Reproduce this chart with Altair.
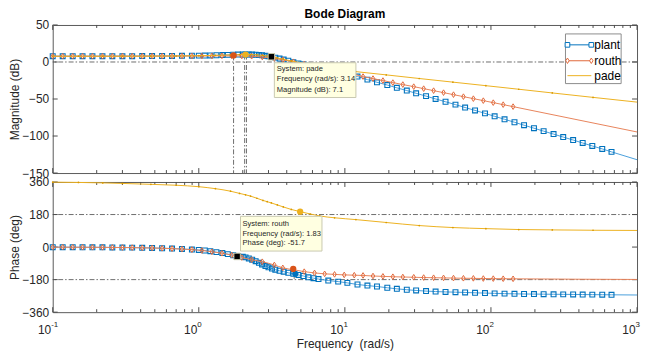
import altair as alt
import pandas as pd

# ---------------- values ----------------
plant_w = [0.1, 0.117, 0.137, 0.16, 0.187, 0.219, 0.256, 0.3, 0.35, 0.41, 0.479, 0.561, 0.656, 0.767, 0.897,
           1.0, 1.1, 1.2, 1.32, 1.45, 1.58, 1.72, 1.86, 2.0, 2.09, 2.2, 2.32, 2.45, 2.58, 2.71, 2.86, 3.0,
           3.17, 3.34, 3.57, 3.81, 4.1, 4.44, 4.81, 5.2, 5.63, 6.1, 6.6, 7.7, 9.0, 10.4,
           12.2, 14.27, 16.59, 19.52, 22.69, 26.54, 30.74, 35.95, 41.79, 48.88, 57.17, 66.55, 77.84, 91.05,
           105.97, 123.9, 144.9, 168.5, 197.0, 229.4, 268.3, 312.4, 365.3, 424.6, 494.2, 578.0, 668.9]
plant_mag = [7.8, 7.8, 7.8, 7.8, 7.8, 7.8, 7.9, 7.9, 7.9, 8.0, 8.0, 8.1, 8.2, 8.3, 8.5,
             8.6, 8.7, 8.9, 9.1, 9.4, 9.6, 9.8, 10.0, 10.1, 10.1, 10.1, 10.0, 9.8, 9.4, 9.0, 8.4, 7.7,
             6.8, 5.9, 4.6, 3.3, 1.8, -0.2, -1.9, -3.4, -5.0, -6.6, -8.2, -11.3, -14.4, -17.2,
             -19.7, -23.8, -27.4, -31.1, -34.9, -38.6, -42.3, -46.1, -49.9, -53.7, -57.6, -61.5, -65.4, -69.4,
             -73.4, -77.4, -81.4, -85.4, -89.4, -93.4, -97.4, -101.4, -105.4, -109.4, -113.4, -117.4, -121.4]
plant_phase = [-0.5, -0.6, -0.8, -1, -1.2, -1.5, -2, -2.5, -3, -4, -5, -6.5, -8, -10.5, -13.5,
               -16, -19, -23, -28, -33, -39, -45, -50, -54, -57, -63, -70, -78, -87, -96, -105, -112,
               -119, -125, -131, -136, -142, -148, -154, -160, -167, -172, -177, -185, -191, -198,
               -207, -213, -218, -225, -231, -236, -240, -243.5, -246, -248, -249.5, -251, -253, -254.5,
               -256, -257.5, -258.5, -259.5, -260, -260.5, -261, -261.5, -262, -262.5, -263, -263.5, -264]
plant_tail_w, plant_tail_mag, plant_tail_phase = [1000], [-132], [-265]

routh_w = [0.1, 0.117, 0.137, 0.16, 0.187, 0.219, 0.256, 0.3, 0.35, 0.41, 0.479, 0.561, 0.656, 0.767, 0.897,
           1.05, 1.23, 1.44, 1.68, 1.97, 2.3, 2.72, 3.29, 3.76, 4.44, 5.27, 6.2, 7.27, 8.5, 9.9, 11.6,
           13.32, 15.58, 18.22, 21.31, 24.93, 29.61, 34.63, 40.5, 47.37, 55.41, 64.8, 75.8, 88.66, 103.7,
           121.3, 141.8]
routh_mag = [7.8, 7.8, 7.8, 7.8, 7.8, 7.8, 7.8, 7.9, 7.9, 7.9, 8.0, 8.0, 8.0, 8.1, 8.1,
             8.1, 8.2, 8.3, 8.3, 8.15, 7.8, 6.7, 4.8, 2.9, 0.3, -2.7, -5.6, -8.4, -11.2, -13.9, -16.8,
             -19.7, -22.4, -25.1, -27.8, -30.5, -33.3, -36.0, -38.7, -41.4, -44.1, -46.8, -49.5, -52.2, -54.9,
             -57.6, -60.3]
routh_phase = [-0.5, -0.6, -0.8, -1, -1.2, -1.5, -2, -2.5, -3, -4, -5, -6.5, -8.5, -11, -14,
               -19, -26, -34, -44, -58, -70, -81, -99, -115, -125, -136, -143, -148, -151, -154, -155.5,
               -157, -160, -162, -164, -165.5, -167, -168.5, -169.5, -170.5, -171.5, -172.5, -173, -174, -174.5,
               -175, -175.5]
routh_tail_w, routh_tail_mag, routh_tail_phase = [1000], [-94.5], [-179]

pade_w = [0.1, 0.15, 0.22, 0.3, 0.47, 0.7, 1.0, 1.3, 1.65, 1.9, 2.09, 2.26, 2.5, 2.75, 2.94, 3.14, 3.45,
          3.79, 4.3, 4.94, 5.8, 6.73, 8.5, 11.9, 19.2, 32.3, 54.9, 92.3, 155, 263, 500, 1000]
pade_mag = [7.8, 7.8, 7.8, 7.8, 7.9, 8.1, 8.5, 9.0, 9.6, 10.0, 10.2, 10.1, 9.6, 8.8, 8.0, 7.1, 5.5,
            3.8, 1.4, -1.0, -3.8, -6.0, -9.3, -13.0, -17.4, -22.3, -27.2, -32.0, -36.8, -41.8, -47.8, -54.2]
pade_phase = [359, 357.5, 355, 352, 347, 342, 334, 323, 309, 297, 289, 282, 270, 258, 251, 244, 233,
              222, 208, 196, 183, 172, 162, 152, 136, 119, 108, 102, 97, 95, 93, 92]

# characteristic markers (peak response / margins) and data tips
peak_w = [1.73, 2.09]
peak_mag = [8.8, 10.0]
peak_colors = ["#D95319", "#EDB120"]
peak_lines_w = [1.73, 2.06, 2.12]
peak_lines_mag = [8.8, 10.0, 10.0]
margin_w = [4.58, 4.43, 4.94]
margin_phase = [-148, -121, 196]
margin_colors = ["#0072BD", "#D95319", "#EDB120"]

tip_top_point = (3.14, 7.1)
tip_top_lines = ["System: pade", "Frequency (rad/s): 3.14", "Magnitude (dB): 7.1"]
tip_bot_point = (1.83, -51.7)
tip_bot_lines = ["System: routh", "Frequency (rad/s): 1.83", "Phase (deg): -51.7"]

title_text = "Bode Diagram"
mag_ticks = [50, 0, -50, -100, -150]
phase_ticks = [360, 180, 0, -180, -360]
x_decades = [0.1, 1, 10, 100, 1000]
x_exponents = ["-1", "0", "1", "2", "3"]
x_minor = [m * d for d in [0.1, 1, 10, 100] for m in range(2, 10)]
legend_names = ["plant", "routh", "pade"]

# ---------------- styling ----------------
W, HT, HB = 588, 149, 131
FONT = "Liberation Sans"
TIPFONT = "Liberation Sans Narrow, Arial Narrow, Liberation Sans"
TXT = "#262626"
PLANT_M, PLANT_L = "#0072BD", "#4a9fdc"
ROUTH_M, ROUTH_L = "#E0683A", "#E8845C"
PADE = "#EDB120"
REF = "#6e6e6e"
DASH = [5, 2, 1.5, 2]
DIAMOND = "M0,-1L0.62,0L0,1L-0.62,0Z"

xs = alt.Scale(type="log", domain=[0.1, 1000], nice=False)
ys_top = alt.Scale(domain=[-150, 50], nice=False, zero=False)
ys_bot = alt.Scale(domain=[-360, 360], nice=False, zero=False)

ax_top = alt.Axis(values=mag_ticks, title="Magnitude (dB)", ticks=False, domain=False, grid=False,
                  labelPadding=4, labelFontSize=12, labelColor=TXT, titleFontSize=12,
                  titleFontWeight="normal", titleColor=TXT, titleX=-38, titleY=HT / 2,
                  titleAlign="center", titleBaseline="middle", titleAngle=270)
ax_bot = alt.Axis(values=phase_ticks, title="Phase (deg)", ticks=False, domain=False, grid=False,
                  labelPadding=4, labelFontSize=12, labelColor=TXT, titleFontSize=12,
                  titleFontWeight="normal", titleColor=TXT, titleX=-38, titleY=HB / 2,
                  titleAlign="center", titleBaseline="middle", titleAngle=270)
ax_bx = alt.Axis(labels=False, ticks=False, domain=False, grid=False, title="Frequency\u00a0 (rad/s)",
                 titleFontSize=12, titleFontWeight="normal", titleColor=TXT, titleY=36,
                 titleBaseline="alphabetic")


def build_panel(ycol, yscale, yaxis, xaxis, height, ticks_y, top):
    def X(f):
        return alt.X(f, type="quantitative", scale=xs, axis=xaxis)

    def Y(f):
        return alt.Y(f, type="quantitative", scale=yscale, axis=yaxis)

    layers = []
    plant = pd.DataFrame({"w": plant_w, "mag": plant_mag, "phase": plant_phase})
    plant_line = pd.concat([plant, pd.DataFrame({"w": plant_tail_w, "mag": plant_tail_mag,
                                                 "phase": plant_tail_phase})])
    routh = pd.DataFrame({"w": routh_w, "mag": routh_mag, "phase": routh_phase})
    routh_line = pd.concat([routh, pd.DataFrame({"w": routh_tail_w, "mag": routh_tail_mag,
                                                 "phase": routh_tail_phase})])
    pade = pd.DataFrame({"w": pade_w, "mag": pade_mag, "phase": pade_phase})

    # reference dash-dot lines
    if top:
        hl = pd.DataFrame({"v": [0]})
        layers.append(alt.Chart(hl).mark_rule(color=REF, strokeDash=DASH, strokeWidth=1).encode(y=Y("v")))
        vl = pd.DataFrame({"w": peak_lines_w, "m": peak_lines_mag, "m2": [-150] * len(peak_lines_w)})
        layers.append(alt.Chart(vl).mark_rule(color=REF, strokeDash=DASH, strokeWidth=1).encode(
            x=X("w"), y=Y("m"), y2=alt.Y2("m2")))
    else:
        hl = pd.DataFrame({"v": [180, -180]})
        layers.append(alt.Chart(hl).mark_rule(color=REF, strokeDash=DASH, strokeWidth=1).encode(y=Y("v")))
        vl = pd.DataFrame({"w": [4.5], "m": [-148], "m2": [-180]})
        layers.append(alt.Chart(vl).mark_rule(color=REF, strokeDash=DASH, strokeWidth=1).encode(
            x=X("w"), y=Y("m"), y2=alt.Y2("m2")))

    # inward ticks
    tmaj = pd.DataFrame({"t": x_decades})
    tmin = pd.DataFrame({"t": x_minor})
    for d, ln in [(tmaj, 5), (tmin, 3)]:
        layers.append(alt.Chart(d).mark_rule(color="#4d4d4d", strokeWidth=1).encode(
            x=X("t"), y=alt.value(0), y2=alt.value(ln)))
        layers.append(alt.Chart(d).mark_rule(color="#4d4d4d", strokeWidth=1).encode(
            x=X("t"), y=alt.value(height - ln), y2=alt.value(height)))
    ty = pd.DataFrame({"v": ticks_y})
    layers.append(alt.Chart(ty).mark_rule(color="#4d4d4d", strokeWidth=1).encode(
        y=Y("v"), x=alt.value(0), x2=alt.value(5)))
    layers.append(alt.Chart(ty).mark_rule(color="#4d4d4d", strokeWidth=1).encode(
        y=Y("v"), x=alt.value(W - 5), x2=alt.value(W)))

    # series
    layers.append(alt.Chart(plant_line).mark_line(color=PLANT_L, strokeWidth=1, interpolate="monotone").encode(
        x=X("w"), y=Y(ycol)))
    layers.append(alt.Chart(plant).mark_point(shape="square", filled=False, size=24, strokeWidth=1.1,
                                              color=PLANT_M, opacity=1).encode(x=X("w"), y=Y(ycol)))
    layers.append(alt.Chart(routh_line).mark_line(color=ROUTH_L, strokeWidth=1, interpolate="monotone").encode(
        x=X("w"), y=Y(ycol)))
    layers.append(alt.Chart(routh).mark_point(shape=DIAMOND, filled=False, size=32, strokeWidth=1,
                                              color=ROUTH_M, opacity=1).encode(x=X("w"), y=Y(ycol)))
    layers.append(alt.Chart(pade).mark_line(color=PADE, strokeWidth=1, interpolate="monotone").encode(
        x=X("w"), y=Y(ycol)))
    layers.append(alt.Chart(pade.iloc[:-1]).mark_point(shape="circle", filled=True, size=3, color="#d99a00",
                                                       opacity=1).encode(x=X("w"), y=Y(ycol)))

    # characteristic dots
    if top:
        pk = pd.DataFrame({"w": peak_w, "v": peak_mag, "c": peak_colors})
    else:
        pk = pd.DataFrame({"w": margin_w, "v": margin_phase, "c": margin_colors})
    layers.append(alt.Chart(pk).mark_point(shape="circle", filled=True, size=40, opacity=1).encode(
        x=X("w"), y=Y("v"), color=alt.Color("c:N", scale=None)))

    # data tip
    pt = tip_top_point if top else tip_bot_point
    lines = tip_top_lines if top else tip_bot_lines
    tp = pd.DataFrame({"w": [pt[0]], "v": [pt[1]]})
    layers.append(alt.Chart(tp).mark_point(shape="square", filled=True, size=42, color="black",
                                           stroke="#c8c8a8", strokeWidth=1, opacity=1).encode(x=X("w"), y=Y("v")))
    if top:
        box = pd.DataFrame({"x1": [3.29], "x2": [11.9], "y1": [-1.0], "y2": [-48.0]})
        txt = pd.DataFrame({"w": [3.42] * 3, "v": [-9.0, -23.6, -38.2], "t": lines})
    else:
        box = pd.DataFrame({"x1": [1.93], "x2": [6.97], "y1": [170.0], "y2": [-22.0]})
        txt = pd.DataFrame({"w": [1.99] * 3, "v": [125.0, 74.0, 21.0], "t": lines})
    layers.append(alt.Chart(box).mark_rect(fill="#FFFFE1", stroke="#c9c9b0", strokeWidth=1).encode(
        x=X("x1"), x2=alt.X2("x2"), y=Y("y1"), y2=alt.Y2("y2")))
    layers.append(alt.Chart(txt).mark_text(align="left", baseline="middle", font=TIPFONT, fontSize=7.6,
                                           color=TXT).encode(x=X("w"), y=Y("v"), text="t:N"))

    one = pd.DataFrame({"a": [0]})
    if top:
        # title
        layers.append(alt.Chart(pd.DataFrame({"t": [title_text]})).mark_text(
            align="center", baseline="middle", fontSize=12, fontWeight="bold", color="black").encode(
            x=alt.value(W / 2), y=alt.value(-11.5), text="t:N"))
        # legend
        layers.append(alt.Chart(one).mark_rect(fill="white", stroke="#8c8c8c", strokeWidth=1).encode(
            x=alt.value(516), x2=alt.value(572), y=alt.value(9), y2=alt.value(59)))
        ly = [20, 36, 51]
        lcol = [PLANT_M, ROUTH_M, PADE]
        for i, name in enumerate(legend_names):
            layers.append(alt.Chart(one).mark_rule(color=lcol[i], strokeWidth=1).encode(
                x=alt.value(518), x2=alt.value(542), y=alt.value(ly[i])))
            if i < 2:
                shp = "square" if i == 0 else DIAMOND
                for px in (518, 542):
                    layers.append(alt.Chart(one).mark_point(shape=shp, filled=False, size=22 if i == 0 else 30,
                                                            strokeWidth=1, color=lcol[i], opacity=1,
                                                            fill="white").encode(
                        x=alt.value(px), y=alt.value(ly[i])))
            layers.append(alt.Chart(pd.DataFrame({"t": [name]})).mark_text(
                align="left", baseline="middle", fontSize=12, color="black").encode(
                x=alt.value(545), y=alt.value(ly[i]), text="t:N"))
    else:
        # x tick labels 10^k
        dl = pd.DataFrame({"w": x_decades, "e": x_exponents, "b": ["10"] * len(x_decades)})
        layers.append(alt.Chart(dl).mark_text(align="right", baseline="alphabetic", fontSize=12, color=TXT,
                                              dx=-1.5).encode(x=X("w"), y=alt.value(height + 22), text="b:N"))
        layers.append(alt.Chart(dl).mark_text(align="left", baseline="alphabetic", fontSize=8, color=TXT,
                                              dx=-1.5).encode(x=X("w"), y=alt.value(height + 15), text="e:N"))

    ch = alt.layer(*layers).properties(width=W, height=height)
    return ch


top = build_panel("mag", ys_top, ax_top, None, HT, mag_ticks, True)
bottom = build_panel("phase", ys_bot, ax_bot, ax_bx, HB, phase_ticks, False)

chart = alt.vconcat(top, bottom, spacing=9, bounds="flush").properties(
    padding={"left": 0, "top": -2, "right": 0, "bottom": 0}
).configure(font=FONT).configure_view(stroke="#5a5a5a", strokeWidth=1)

chart.save("out.html", embed_options={"renderer": "svg", "actions": False})
